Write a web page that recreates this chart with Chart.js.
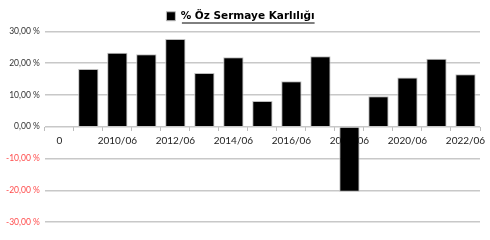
<!DOCTYPE html>
<html>
<head>
<meta charset="utf-8">
<script src="https://cdn.jsdelivr.net/npm/chart.js@4.4.1/dist/chart.umd.min.js"></script>
<style>
    html, body { margin: 0; padding: 0; background: #fff; }
    #wrap { width: 490px; height: 240px; }
</style>
</head>
<body>
<div id="wrap"><canvas id="karChart"></canvas></div>
<script>
// Yıllar (ilk kategori "0" boş)
const donemler = ['0', '2009/06', '2010/06', '2011/06', '2012/06', '2013/06', '2014/06',
    '2015/06', '2016/06', '2017/06', '2018/06', '2019/06', '2020/06', '2021/06', '2022/06'];
// % Öz Sermaye Karlılığı
const ozSermayeKarliligi = [null, 18.2, 23.3, 22.8, 27.6, 16.9, 21.9, 8.1, 14.3, 22.2, -20.5, 9.6, 15.5, 21.4, 16.5];
const yEkseni = [-30, -20, -10, 0, 10, 20, 30];

// legend yazısının altını çiz
const altCizgi = {
    id: 'altCizgi',
    afterDraw(chart) {
        const legend = chart.legend;
        if (!legend || !legend.legendHitBoxes.length) return;
        const box = legend.legendHitBoxes[0];
        const ctx = chart.ctx;
        const textX = box.left + legend.options.labels.boxWidth + legend.options.labels.padding / 2 + 2;
        ctx.save();
        ctx.strokeStyle = '#000';
        ctx.lineWidth = 1;
        ctx.beginPath();
        ctx.moveTo(textX, box.top + box.height + 1.5);
        ctx.lineTo(box.left + box.width, box.top + box.height + 1.5);
        ctx.stroke();
        ctx.restore();
    }
};

const ctx = document.getElementById('karChart').getContext('2d');
new Chart(ctx, {
    type: 'bar',
    data: {
        labels: donemler,
        datasets: [{
            label: '% Öz Sermaye Karlılığı',
            data: ozSermayeKarliligi,
            backgroundColor: '#000',
            borderColor: '#bdbdbd',
            borderWidth: 1,
            categoryPercentage: 0.7,
            barPercentage: 1.0
        }]
    },
    options: {
        responsive: true,
        maintainAspectRatio: false,
        animation: false,
        layout: { padding: { left: 1, right: 10, top: 2, bottom: 18 } },
        plugins: {
            legend: {
                display: true,
                position: 'top',
                labels: {
                    boxWidth: 9,
                    boxHeight: 9,
                    padding: 9,
                    color: '#000',
                    font: { family: 'DejaVu Sans', size: 10.5, weight: 'bold' }
                }
            },
            tooltip: { enabled: false }
        },
        scales: {
            x: {
                position: { y: 0 },
                offset: true,
                grid: {
                    offset: true,
                    drawOnChartArea: false,
                    drawTicks: true,
                    tickLength: 4,
                    color: '#bdbdbd'
                },
                border: { display: false },
                ticks: {
                    autoSkip: false,
                    maxRotation: 0,
                    color: '#222',
                    padding: 4,
                    font: { family: 'Lato', size: 10 },
                    callback: function (val, index) {
                        return index % 2 === 0 ? this.getLabelForValue(val) : '';
                    }
                }
            },
            y: {
                min: -30,
                max: 30,
                afterBuildTicks: function (scale) {
                    scale.ticks = yEkseni.map(v => ({ value: v }));
                },
                grid: {
                    color: '#c8c8c8',
                    lineWidth: 1.5,
                    drawTicks: false
                },
                border: { display: false },
                ticks: {
                    padding: 5,
                    font: { family: 'Lato', size: 8.5 },
                    color: function (c) {
                        return c.tick && c.tick.value < 0 ? '#ff4d4d' : '#333';
                    },
                    callback: function (v) {
                        return v.toFixed(2).replace('.', ',') + ' %';
                    }
                }
            }
        }
    },
    plugins: [altCizgi]
});
</script>
</body>
</html>
